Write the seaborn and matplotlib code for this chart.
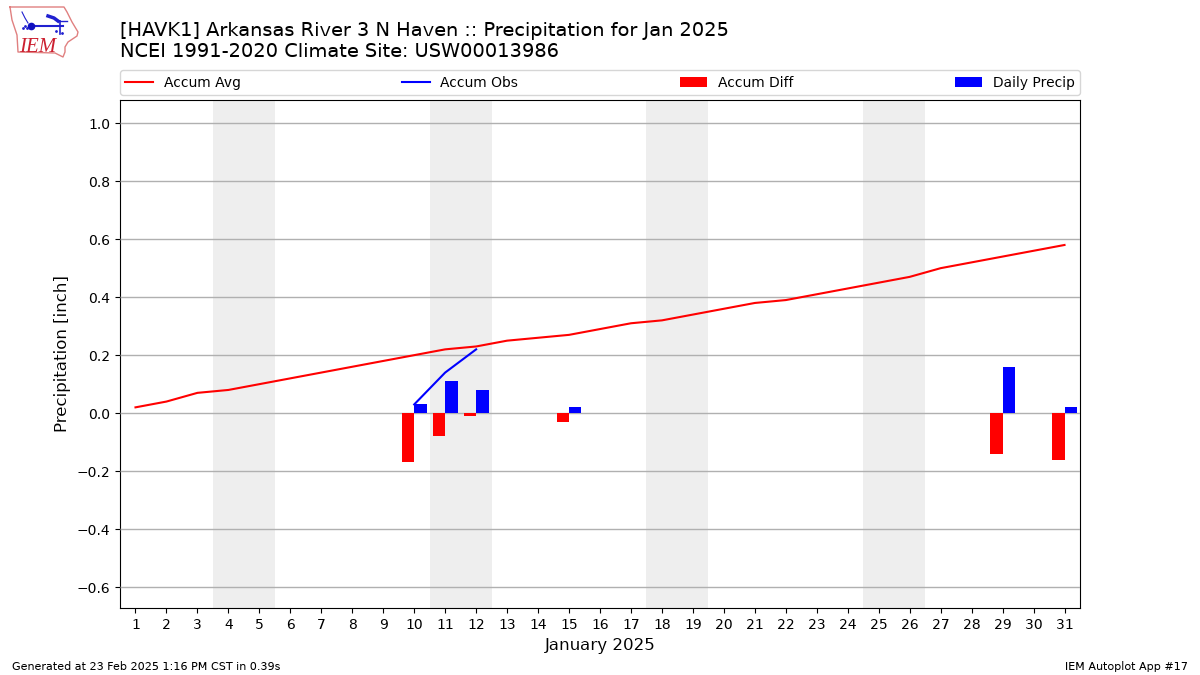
import numpy as np
import pandas as pd
import matplotlib
matplotlib.use("Agg")
import matplotlib.pyplot as plt
import seaborn as sns

plt.rcParams["text.hinting"] = "no_autohint"

days = list(range(1, 32))
accum_avg = [0.02, 0.04, 0.07, 0.08, 0.10, 0.12, 0.14, 0.16, 0.18, 0.20, 0.22, 0.23, 0.25, 0.26, 0.27, 0.29,
             0.31, 0.32, 0.34, 0.36, 0.38, 0.39, 0.41, 0.43, 0.45, 0.47, 0.50, 0.52, 0.54, 0.56, 0.58]
obs_days = [10, 11, 12]
accum_obs = [0.03, 0.14, 0.22]
bar_days = [10, 11, 12, 15, 29, 31]
accum_diff = [-0.17, -0.08, -0.01, -0.03, -0.14, -0.16]
daily_precip = [0.03, 0.11, 0.08, 0.02, 0.16, 0.02]
weekends = [(4, 5), (11, 12), (18, 19), (25, 26)]
yticks = [-0.6, -0.4, -0.2, 0.0, 0.2, 0.4, 0.6, 0.8, 1.0]

fig = plt.figure(figsize=(12, 6.75), dpi=100)
ax = fig.add_axes([120 / 1200, 1 - 608 / 675, 960 / 1200, 508 / 675])

for start, end in weekends:
    ax.axvspan(start - 0.5, end + 0.5, color="#eeeeee", lw=0, zorder=1)

bars = pd.DataFrame({
    "day": bar_days * 2,
    "value": accum_diff + daily_precip,
    "series": ["Accum Diff"] * len(bar_days) + ["Daily Precip"] * len(bar_days),
})
sns.barplot(data=bars, x="day", y="value", hue="series", native_scale=True, width=0.8, gap=0,
            palette={"Accum Diff": "#ff0000", "Daily Precip": "#0000ff"}, saturation=1,
            errorbar=None, ax=ax, zorder=3)
sns.lineplot(x=days, y=accum_avg, color="#ff0000", lw=1.5, label="Accum Avg", ax=ax, zorder=4)
sns.lineplot(x=obs_days, y=accum_obs, color="#0000ff", lw=1.5, label="Accum Obs", ax=ax, zorder=4)

ax.set_xlim(0.5, 31.5)
ax.set_ylim(-0.672, 1.080)
ax.set_xticks(days)
ax.set_yticks(yticks)
ax.tick_params(labelsize=10)
ax.yaxis.grid(True, color="#b0b0b0", lw=1, zorder=2)
ax.set_axisbelow(False)
ax.xaxis.grid(False)
ax.set_xlabel("January 2025", fontsize=12, labelpad=4)
ax.set_ylabel("Precipitation [inch]", fontsize=12)

handles, labels = ax.get_legend_handles_labels()
order = ["Accum Avg", "Accum Obs", "Accum Diff", "Daily Precip"]
handles = [handles[labels.index(n)] for n in order]
ax.legend(handles, order, loc="lower left", bbox_to_anchor=(0, 1 + 5 / 508, 1, 25 / 508), ncol=4, mode="expand",
          borderaxespad=0, borderpad=0.39, handletextpad=0.75, fontsize=10)

fig.text(120 / 1200, 1 - 61 / 675, "[HAVK1] Arkansas River 3 N Haven :: Precipitation for Jan 2025\n"
         "NCEI 1991-2020 Climate Site: USW00013986", fontsize=13.93, va="bottom", ha="left", linespacing=1.2)
fig.text(12 / 1200, 1 - 670 / 675, "Generated at 23 Feb 2025 1:16 PM CST in 0.39s", fontsize=8, va="baseline")
fig.text(1188 / 1200, 1 - 670 / 675, "IEM Autoplot App #17", fontsize=8, ha="right", va="baseline")

# logo, drawn in pixel coords
logo = fig.add_axes([0, 1 - 60 / 675, 80 / 1200, 60 / 675])
logo.set_xlim(0, 80)
logo.set_ylim(60, 0)
logo.axis("off")
outline_x = [10, 64, 67, 72, 78, 77, 68, 65, 65, 63, 55, 18, 17, 12, 10]
outline_y = [7, 7, 12, 22, 32, 36, 42, 47, 52, 57, 53, 52, 35, 20, 7]
logo.plot(outline_x, outline_y, color="#e08080", lw=1)
logo.plot([32, 63], [26, 26], color="#2020d0", lw=1.5)
logo.plot([31], [26], "o", color="#1010c0", ms=4.5)
logo.plot([60, 60], [21, 34], color="#2020d0", lw=1.2)
logo.plot([48, 54, 58], [16, 18, 21], color="#2020d0", lw=2.5)
logo.plot([58, 67], [21, 21], color="#2020d0", lw=1)
logo.plot([22, 25, 28], [12, 18, 23], color="#2020d0", lw=0.8)
logo.plot([23, 25, 27, 56, 62], [28, 26, 28, 31, 33], ".", color="#2020d0", ms=2)
logo.text(37.5, 52, "IEM", color="#cc2030", fontsize=15, family="Liberation Serif", style="italic", ha="center", va="baseline")

fig.savefig("out.png", dpi=100)
